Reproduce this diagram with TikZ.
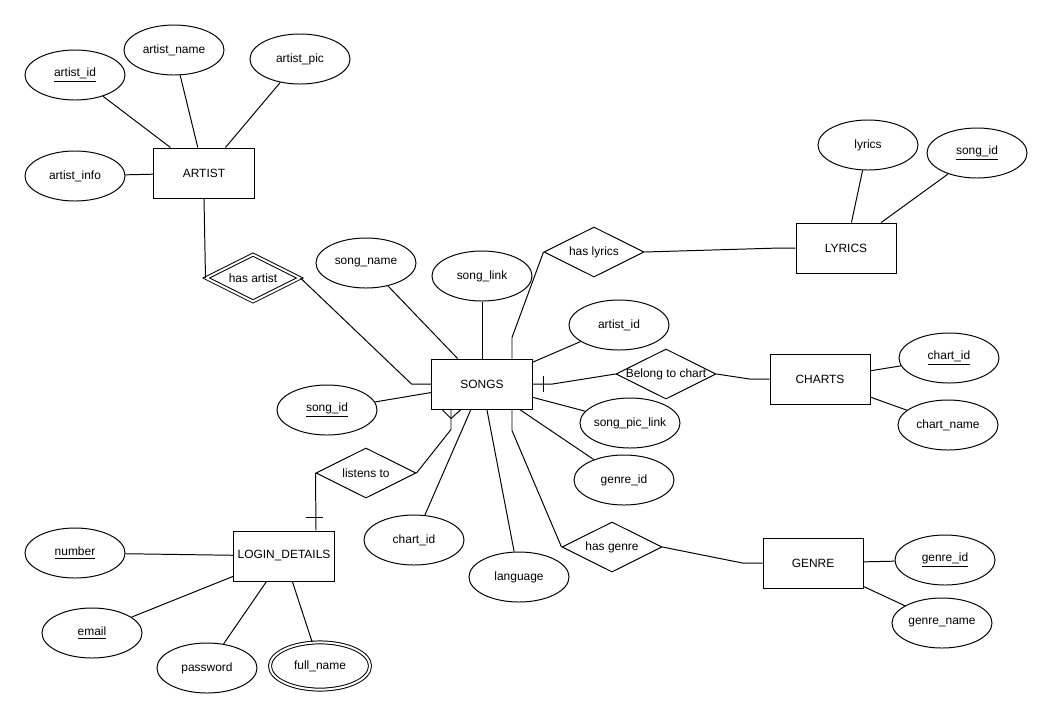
\documentclass[tikz,border=0pt]{standalone}
\usepackage{fontspec}
\setmainfont{Liberation Sans}
\usetikzlibrary{shapes.geometric,calc}

\begin{document}
\begin{tikzpicture}[x=0.025cm,y=-0.025cm,
  every node/.style={font=\fontsize{8.5}{10}\selectfont},
  entity/.style={draw,rectangle,line width=0.7pt,minimum width=2.5cm,minimum height=1.25cm,inner sep=0pt},
  attr/.style={draw,ellipse,line width=0.7pt,minimum width=2.5cm,minimum height=1.25cm,inner sep=0pt},
  rel/.style={draw,diamond,line width=0.7pt,minimum width=2.5cm,minimum height=1.25cm,inner sep=0pt},
  weakrel/.style={rel,double,double distance=1.4pt,minimum width=2.35cm,minimum height=1.18cm},
  multi/.style={attr,double,double distance=1.4pt,minimum width=2.5cm,minimum height=1.18cm},
  link/.style={line width=0.7pt}
]
\useasboundingbox (0,0) rectangle (1053,719);

\node[entity] (artist) at (204,173) {ARTIST};
\node[attr,label=center:{\underline{artist\_id}}] (aid) at (75,75) {};
\node[attr,label=center:artist\_name] (aname) at (174,50) {};
\node[attr,label=center:artist\_pic] (apic) at (300,59) {};
\node[attr,label=center:artist\_info] (ainfo) at (75,176) {};
\node[weakrel,label=center:has artist] (hasartist) at (253,278) {};

\node[entity] (songs) at (482,384) {SONGS};
\node[attr,label=center:song\_name] (sname) at (366,263) {};
\node[attr,label=center:song\_link] (slink) at (482,276) {};
\node[attr,label=center:artist\_id] (said) at (619,325) {};
\node[attr,label=center:song\_pic\_link] (spic) at (630,423) {};
\node[attr,label=center:genre\_id] (sgid) at (624,480) {};
\node[attr,label=center:language] (lang) at (519,577) {};
\node[attr,label=center:chart\_id] (schid) at (414,540) {};
\node[attr,label=center:{\underline{song\_id}}] (ssid) at (327,410) {};

\node[rel,label=center:has lyrics] (haslyrics) at (594,252) {};
\node[entity] (lyrics) at (846,248) {LYRICS};
\node[attr,label=center:lyrics] (lyr) at (868,145) {};
\node[attr,label=center:{\underline{song\_id}}] (lsid) at (977,153) {};

\node[rel,label=center:Belong to chart] (belong) at (666,374) {};
\node[entity] (charts) at (820,379) {CHARTS};
\node[attr,label=center:{\underline{chart\_id}}] (chid) at (949,358) {};
\node[attr,label=center:chart\_name] (chname) at (948,425) {};

\node[rel,label=center:has genre] (hasgenre) at (612,547) {};
\node[entity] (genre) at (813,563) {GENRE};
\node[attr,label=center:{\underline{genre\_id}}] (gid) at (945,560) {};
\node[attr,label=center:genre\_name] (gname) at (942,623) {};

\node[rel,label=center:listens to] (listens) at (366,473) {};
\node[entity] (login) at (284,556) {LOGIN\_DETAILS};
\node[attr,label=center:{\underline{number}}] (number) at (75,553) {};
\node[attr,label=center:{\underline{email}}] (email) at (92,633) {};
\node[attr,label=center:password] (pw) at (207,668) {};
\node[multi,label=center:full\_name] (fname) at (320,666) {};

\foreach \a/\b in {aid/artist,aname/artist,apic/artist,ainfo/artist,
    sname/songs,slink/songs,said/songs,spic/songs,sgid/songs,lang/songs,schid/songs,ssid/songs,
    lyr/lyrics,lsid/lyrics,chid/charts,chname/charts,gid/genre,gname/genre,
    number/login,email/login,pw/login,fname/login}
  \draw[link] (\a) -- (\b);

\draw[link] (artist.south) -- (hasartist.west);
\draw[link] (hasartist.east) -- ([shift={(-20,0)}]songs.west) -- (songs.west);

\draw[link] ([shift={(30,0)}]songs.north) -- ++(0,-21) -- (haslyrics.west);
\draw[link] (haslyrics.east) -- ([shift={(-16,0)}]lyrics.west) -- (lyrics.west);

\draw[link] (songs.east) -- ++(20,0) -- (belong.west);
\draw[link] ([shift={(11,-8)}]songs.east) -- ([shift={(11,8)}]songs.east);
\draw[link] (belong.east) -- ([shift={(-20,0)}]charts.west) -- (charts.west);

\draw[link] ([shift={(30,0)}]songs.south) -- ++(0,21) -- (hasgenre.west);
\draw[link] (hasgenre.east) -- ([shift={(-20,0)}]genre.west) -- (genre.west);

\draw[link] ([shift={(-31,0)}]songs.south) -- ++(0,20) -- (listens.east);
\draw[link] ([shift={(-40,0)}]songs.south) -- ([shift={(-31,9)}]songs.south) -- ([shift={(-21,0)}]songs.south);
\draw[link] (listens.west) -- ([shift={(32,0)}]login.north);
\draw[link] ([shift={(22,-13)}]login.north) -- ([shift={(39,-13)}]login.north);
\end{tikzpicture}
\end{document}
